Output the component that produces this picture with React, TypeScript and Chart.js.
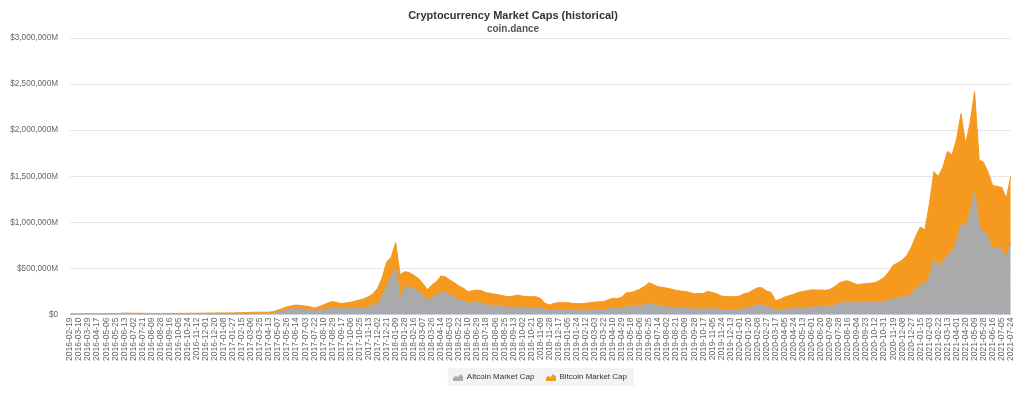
import React, { useEffect, useRef } from "react";
import { Chart, registerables } from "chart.js";

Chart.register(...registerables);

// Tick dates shown on the x axis (one data point in between each pair)
const tickDates: string[] = [
  "2016-02-19", "2016-03-10", "2016-03-29", "2016-04-17", "2016-05-06", "2016-05-25", "2016-06-13", "2016-07-02",
  "2016-07-21", "2016-08-09", "2016-08-28", "2016-09-16", "2016-10-05", "2016-10-24", "2016-11-12", "2016-12-01",
  "2016-12-20", "2017-01-08", "2017-01-27", "2017-02-15", "2017-03-06", "2017-03-25", "2017-04-13", "2017-05-07",
  "2017-05-26", "2017-06-14", "2017-07-03", "2017-07-22", "2017-08-10", "2017-08-29", "2017-09-17", "2017-10-06",
  "2017-10-25", "2017-11-13", "2017-12-02", "2017-12-21", "2018-01-09", "2018-01-28", "2018-02-16", "2018-03-07",
  "2018-03-26", "2018-04-14", "2018-05-03", "2018-05-22", "2018-06-10", "2018-06-29", "2018-07-18", "2018-08-06",
  "2018-08-25", "2018-09-13", "2018-10-02", "2018-10-21", "2018-11-09", "2018-11-28", "2018-12-17", "2019-01-05",
  "2019-01-24", "2019-02-12", "2019-03-03", "2019-03-22", "2019-04-10", "2019-04-29", "2019-05-18", "2019-06-06",
  "2019-06-25", "2019-07-14", "2019-08-02", "2019-08-21", "2019-09-09", "2019-09-28", "2019-10-17", "2019-11-05",
  "2019-11-24", "2019-12-13", "2020-01-01", "2020-01-20", "2020-02-08", "2020-02-27", "2020-03-17", "2020-04-05",
  "2020-04-24", "2020-05-13", "2020-06-01", "2020-06-20", "2020-07-09", "2020-07-28", "2020-08-16", "2020-09-04",
  "2020-09-23", "2020-10-12", "2020-10-31", "2020-11-19", "2020-12-08", "2020-12-27", "2021-01-15", "2021-02-03",
  "2021-02-22", "2021-03-13", "2021-04-01", "2021-04-20", "2021-05-09", "2021-05-28", "2021-06-16", "2021-07-05",
  "2021-07-24",
];

// Altcoin market cap, $ billions (tick point, mid point, tick point, ...)
const altcoinCap: number[] = [
  1.3, 1.5, 2.2, 2.8, 2.5, 2.3, 2.1, 2.2, 2.2, 2.3, 2.6, 3, 4, 3.8, 3.5, 3.8, 3.5, 3, 2.8, 2.8,
  2.7, 2.6, 2.6, 2.5, 2.4, 2.4, 2.4, 2.3, 2.3, 2.3, 2.3, 2.3, 2.4, 2.6, 2.6, 2.7, 2.8, 3, 3.3, 4,
  5.5, 7, 7.5, 8, 9, 13, 22, 35, 48, 58, 65, 60, 56, 48, 38, 44, 50, 62, 74, 66,
  60, 62, 64, 66, 68, 75, 85, 100, 120, 190, 310, 400, 500, 175, 300, 295, 284, 248, 211, 139,
  186, 211, 248, 237, 211, 186, 164, 150, 121, 128, 128, 125, 107, 102, 92, 90, 85, 78, 78, 82,
  78, 77, 76, 75, 70, 49, 41, 45, 46, 46, 47, 45, 42, 41, 42, 44, 46, 47, 50, 58,
  70, 68, 70, 85, 90, 92, 95, 105, 118, 110, 95, 90, 82, 80, 78, 76, 72, 68, 60, 60,
  60, 62, 62, 60, 52, 52, 50, 52, 55, 65, 72, 90, 105, 105, 85, 78, 48, 52, 58, 62,
  66, 70, 74, 78, 80, 82, 85, 86, 90, 100, 118, 130, 138, 132, 125, 127, 130, 130, 132, 133,
  138, 155, 172, 180, 190, 200, 215, 280, 320, 340, 400, 600, 530, 570, 640, 680, 790, 980, 950, 1100,
  1340, 950, 900, 840, 700, 740, 700, 630, 770,
];

// Bitcoin market cap, $ billions (same points)
const bitcoinCap: number[] = [
  6.2, 6.5, 6.8, 6.7, 6.7, 6.7, 6.9, 7.0, 7.1, 7.5, 7.9, 9, 11, 10.7, 10.5, 10.2, 10.5, 9.5, 9.2, 9.2,
  9.3, 9.7, 9.7, 10, 10.1, 10.4, 10.9, 11.7, 11.7, 12.2, 12.7, 13.2, 13.6, 14.9, 14.4, 14.8, 14.7, 16, 16.2, 17,
  18.5, 18, 16.5, 17, 16, 20, 26, 30, 37, 37, 38, 38, 36, 37, 32, 41, 53, 63, 66, 64,
  58, 63, 68, 79, 89, 97, 108, 125, 165, 205, 260, 220, 280, 255, 165, 160, 144, 144, 127, 127,
  134, 145, 170, 173, 163, 159, 145, 134, 127, 130, 138, 133, 130, 128, 127, 121, 115, 115, 122, 129,
  122, 116, 117, 118, 105, 72, 62, 76, 82, 82, 83, 76, 76, 76, 80, 84, 89, 91, 90, 102,
  105, 104, 120, 150, 150, 163, 180, 200, 227, 215, 205, 205, 203, 195, 184, 179, 178, 172, 165, 168,
  168, 188, 178, 165, 148, 143, 142, 143, 145, 160, 163, 175, 185, 185, 170, 162, 102, 113, 132, 143,
  154, 170, 176, 180, 188, 183, 180, 176, 182, 200, 222, 230, 227, 213, 200, 203, 205, 210, 213, 237,
  267, 305, 363, 380, 400, 440, 515, 570, 630, 580, 800, 950, 970, 1030, 1130, 1050, 1110, 1200, 900, 980,
  1080, 730, 750, 700, 700, 650, 680, 630, 730,
];

const seriesNames = ["Altcoin Market Cap", "Bitcoin Market Cap"];
const seriesColors = ["#aaaaaa", "#f6991f"];

function makeIcon(color: string): HTMLCanvasElement {
  const c = document.createElement("canvas");
  c.width = 10;
  c.height = 8;
  const g = c.getContext("2d")!;
  g.fillStyle = color;
  g.beginPath();
  g.moveTo(0, 8);
  g.lineTo(0, 5);
  g.lineTo(2.5, 2.5);
  g.lineTo(4.5, 4.5);
  g.lineTo(7, 1);
  g.lineTo(10, 3.5);
  g.lineTo(10, 8);
  g.closePath();
  g.fill();
  return c;
}

const legendBackground = {
  id: "legendBackground",
  afterLayout(chart: any) {
    const lg = chart.legend;
    const ca = chart.chartArea;
    if (!lg || !ca) return;
    lg.left = ca.left;
    lg.right = ca.right;
    lg.width = ca.right - ca.left;
  },
  beforeDraw(chart: any) {
    const lg = chart.legend;
    if (!lg || !lg.legendHitBoxes || !lg.legendHitBoxes.length) return;
    let l = Infinity, r = -Infinity, t = Infinity, b = -Infinity;
    lg.legendHitBoxes.forEach((h: any) => {
      l = Math.min(l, h.left);
      r = Math.max(r, h.left + h.width);
      t = Math.min(t, h.top);
      b = Math.max(b, h.top + h.height);
    });
    const ctx = chart.ctx;
    ctx.save();
    ctx.fillStyle = "#f3f3f3";
    ctx.fillRect(l - 6, t - 5, r - l + 13, b - t + 10);
    ctx.restore();
  },
};

export default function App() {
  const ref = useRef<HTMLCanvasElement | null>(null);

  useEffect(() => {
    if (!ref.current) return;
    const labels: string[] = [];
    tickDates.forEach((d, i) => {
      labels.push(d);
      if (i < tickDates.length - 1) labels.push("");
    });
    const icons = seriesColors.map(makeIcon);
    const chart = new Chart(ref.current, {
      type: "line",
      data: {
        labels,
        datasets: [
          {
            label: seriesNames[0],
            data: altcoinCap,
            borderColor: seriesColors[0],
            backgroundColor: seriesColors[0],
            borderWidth: 1,
            pointRadius: 0,
            pointStyle: icons[0] as any,
            fill: "origin",
            tension: 0,
          },
          {
            label: seriesNames[1],
            data: bitcoinCap,
            borderColor: seriesColors[1],
            backgroundColor: seriesColors[1],
            borderWidth: 1,
            pointRadius: 0,
            pointStyle: icons[1] as any,
            fill: "-1",
            tension: 0,
          },
        ],
      },
      options: {
        responsive: false,
        animation: false,
        events: [],
        layout: { padding: { left: 10, right: 8, top: 0, bottom: 5 } },
        plugins: {
          title: {
            display: true,
            text: "Cryptocurrency Market Caps (historical)",
            color: "#333333",
            font: { family: "'Liberation Sans', Arial, sans-serif", size: 11, weight: "bold" },
            padding: { top: 9.8, bottom: 0 },
          },
          subtitle: {
            display: true,
            text: "coin.dance",
            color: "#555555",
            font: { family: "'Liberation Sans', Arial, sans-serif", size: 10, weight: "bold" },
            padding: { top: 0, bottom: 3 },
          },
          legend: {
            display: true,
            position: "bottom",
            labels: {
              usePointStyle: true,
              pointStyleWidth: 9,
              padding: 12,
              color: "#333333",
              font: { family: "'Liberation Sans', Arial, sans-serif", size: 8 },
            },
          },
          tooltip: { enabled: false },
        },
        scales: {
          x: {
            type: "category",
            grid: { display: false, drawTicks: false },
            border: { display: true, color: "#ccd6eb" },
            afterFit: (s: any) => {
              s.height = 46.5;
            },
            ticks: {
              autoSkip: false,
              minRotation: 90,
              maxRotation: 90,
              padding: 3,
              color: "#666666",
              font: { family: "'Liberation Sans', Arial, sans-serif", size: 8.5 },
            },
          },
          y: {
            stacked: true,
            min: 0,
            max: 3000,
            grid: { color: "#e6e6e6", drawTicks: false },
            border: { display: false },
            afterFit: (s: any) => {
              s.width = 60;
            },
            ticks: {
              stepSize: 500,
              padding: 12,
              color: "#666666",
              font: { family: "'Liberation Sans', Arial, sans-serif", size: 8.2 },
              callback: (v: any) =>
                Number(v) === 0 ? "$0" : "$" + (Number(v) * 1000).toLocaleString("en-US") + "M",
            },
          },
        },
      },
      plugins: [legendBackground],
    });
    return () => chart.destroy();
  }, []);

  return (
    <div style={{ position: "absolute", left: 0, top: 0, width: 1024, height: 396, background: "#ffffff" }}>
      <canvas ref={ref} width={1024} height={396} />
    </div>
  );
}
